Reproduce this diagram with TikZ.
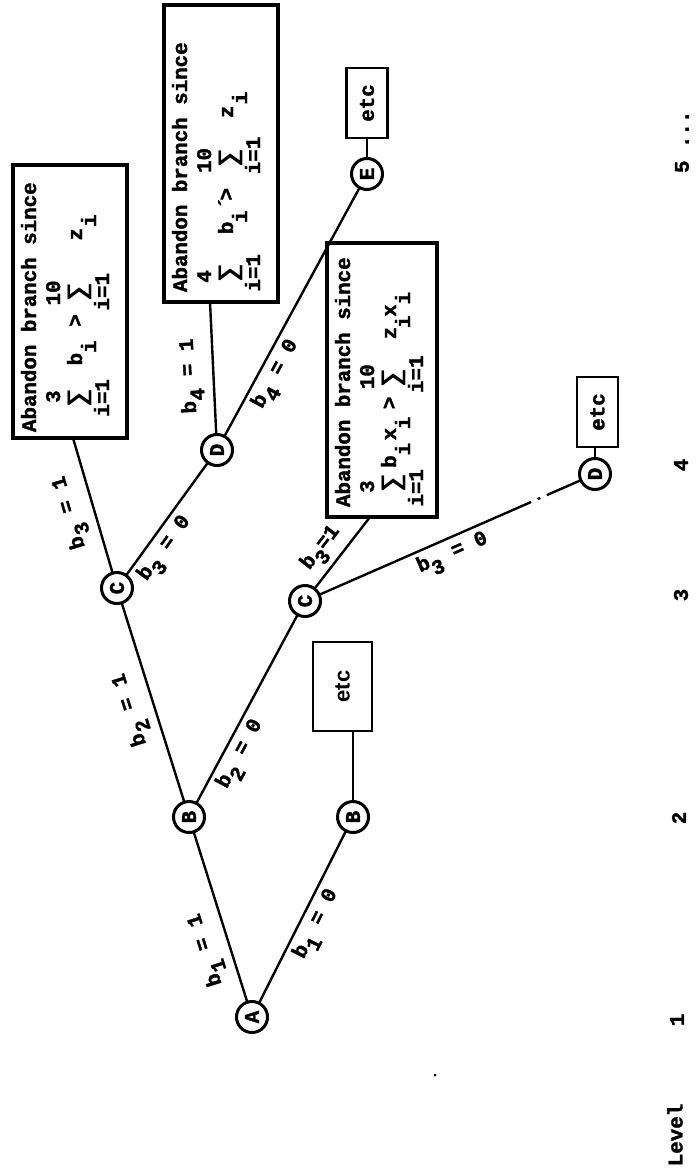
\documentclass[tikz,border=0pt]{standalone}
\usepackage{fontspec}
\setmonofont{Liberation Mono}[BoldFeatures={FakeBold=1.6}]
\newfontfamily\sumfont{DejaVu Sans Mono}
\newfontfamily\etcsans{Liberation Sans}
\usepackage{graphicx}
\usetikzlibrary{calc}
\newlength\cw \setlength\cw{12.48pt}
\newcommand\Cl[2]{\rlap{\hspace*{#1\cw}#2}}
\newcommand\Cs[2]{\rlap{\hspace*{#1\cw}\makebox[0pt][c]{#2}}}
\newcommand\SG{\raisebox{-4pt}{\sumfont\bfseries\scalebox{1.5}[1.2]{∑}}}
\newcommand\tfont{\ttfamily\bfseries\fontsize{20.8}{24}\selectfont}
\newcommand\etcfont{\etcsans\bfseries\fontsize{22}{26}\selectfont}
\newcommand\lo[1]{\raisebox{-9pt}{#1}}
\begin{document}
\begin{tikzpicture}[x=1pt,y=1pt,
  every node/.style={inner sep=0pt, outer sep=0pt},
  st/.style={circle, draw, line width=3pt, minimum size=31pt, inner sep=0pt, font=\tfont, rotate=90},
  edge/.style={line width=2.4pt},
  lab/.style={font=\tfont, sloped, allow upside down, inner sep=2pt},
  abox/.style={draw, line width=3.5pt, anchor=north west},
  txt/.style={font=\tfont, anchor=base west},
  ebox/.style={draw, line width=2.6pt, rotate=90},
  lvl/.style={font=\tfont, rotate=90}]
\fill[white] (0,0) rectangle (698,-1174);
\useasboundingbox (0,0) rectangle (698,-1174);

% state nodes
\node[st] (A)  at (252,-1017) {A};
\node[st] (B1) at (189,-817) {B};
\node[st] (B2) at (353,-817) {B};
\node[st] (C1) at (117,-588) {C};
\node[st] (C2) at (305,-601) {C};
\node[st] (D1) at (217,-450) {D};
\node[st] (D2) at (595,-474) {D};
\node[st] (E)  at (367,-174) {E};

% abandon boxes
\begin{scope}[shift={(13,-438)}, rotate=90, transform shape]
 \node[abox, minimum width=273, minimum height=114] (box1) at (0,0) {};
 \node[txt] (box1t) at (6,-23) {Abandon branch since};
 \node[txt] (box1a) at (6,-47) {\Cl{2.3}{3}\Cl{10.1}{10}};
 \node[txt] (box1b) at (6,-69) {\Cs{2.7}{\SG}\Cl{5.3}{b}\Cl{8.4}{>}\Cs{11.2}{\SG}\Cl{15.3}{z}};
 \node[txt] (box1c) at (6,-83) {\Cl{6.3}{i}\Cl{16.4}{i}};
 \node[txt] (box1d) at (6,-96) {\Cl{1.2}{i=1}\Cl{9.7}{i=1}};
\end{scope}
\begin{scope}[shift={(164,-302)}, rotate=90, transform shape]
 \node[abox, minimum width=297, minimum height=114] (box2) at (0,0) {};
 \node[txt] (box2t) at (10,-23) {Abandon branch since};
 \node[txt] (box2a) at (10,-47) {\Cl{0.7}{4}\Cl{9.5}{10}};
 \node[txt] (box2b) at (10,-69) {\Cs{1.5}{\SG}\Cl{4.6}{b}\Cl{6.6}{´}\Cl{7.3}{>}\Cs{10.7}{\SG}\Cl{13.9}{z}};
 \node[txt] (box2c) at (10,-83) {\Cl{5.5}{i}\Cl{15}{i}};
 \node[txt] (box2d) at (10,-96) {\Cl{0}{i=1}\Cl{9.4}{i=1}};
\end{scope}
\begin{scope}[shift={(327,-517)}, rotate=90, transform shape]
 \node[abox, minimum width=274, minimum height=110] (box3) at (0,0) {};
 \node[txt] (box3t) at (10,-23) {Abandon branch since};
 \node[txt] (box3a) at (10,-47) {\Cl{1.1}{3}\Cl{9.4}{10}};
 \node[txt] (box3b) at (10,-69) {\Cs{1.9}{\SG}\Cl{3.1}{b}\Cl{5.3}{x}\Cl{7.8}{>}\Cs{10.3}{\SG}\Cl{13.4}{z}\Cl{15.2}{x}};
 \node[txt] (box3c) at (10,-83) {\Cl{4.1}{i}\Cl{6.2}{i}\Cl{14.3}{i}\Cl{16.2}{i}};
 \node[txt] (box3d) at (10,-96) {\Cl{0}{i=1}\Cl{9.1}{i=1}};
\end{scope}

% etc boxes
\node[ebox, minimum width=89, minimum height=59, font=\etcfont] (etcB) at (342.5,-686.5) {etc};
\node[ebox, minimum width=70, minimum height=41, font=\tfont] (etcD) at (597.5,-412) {etc};
\node[ebox, minimum width=70, minimum height=41, font=\tfont] (etcE) at (367,-103) {etc};

% connectors
\draw[edge] (A) -- node[lab, above=8pt, pos=.35] {b\lo{1} = 1} (B1);
\draw[edge] (A) -- node[lab, below=3pt, pos=.5] {b\lo{1} = 0} (B2);
\draw[edge] (B1) -- node[lab, above=8pt, pos=.5] {b\lo{2} = 1} (C1);
\draw[edge] (B1) -- node[lab, below=3pt, pos=.3] {b\lo{2} = 0} (C2);
\draw[edge] (C1) -- node[lab, above=8pt, pos=.5] {b\lo{3} = 1} ([xshift=3pt]box1.west);
\draw[edge] (C1) -- node[lab, below=3pt, pos=.32] {b\lo{3} = 0} (D1);
\draw[edge] (D1) -- node[lab, above=8pt, pos=.45] {b\lo{4} = 1} ([xshift=-11pt]box2.west);
\draw[edge] (D1) -- node[lab, below=3pt, pos=.28] {b\lo{4} = 0} (E);
\draw[edge] (C2) -- node[lab, above=4pt, pos=.4] {b\lo{3}=1} ([xshift=-12pt]box3.west);
\coordinate (cd) at ($(C2)!0.78!(D2)$);
\draw[edge] (C2) -- node[lab, below=3pt, pos=.6] {b\lo{3} = 0} (cd);
\draw[edge, dash pattern=on 0pt off 7pt on 3pt off 7pt on 80pt] (cd) -- (D2);
\draw[edge] (B2) -- (B2 |- etcB.west);
\draw[edge] (D2) -- (D2 |- etcD.west);
\draw[edge] (E) -- (etcE.west);

% level labels
\node[lvl] (lev) at (675,-1135) {Level};
\node[lvl] (l1) at (677,-1020) {1};
\node[lvl] (l2) at (679,-818) {2};
\node[lvl] (l3) at (681,-595) {3};
\node[lvl] (l4) at (681,-465) {4};
\node[lvl, anchor=west] (l5) at (682,-173) {5 ...};

\fill (435,-1075) circle (1.5);
\end{tikzpicture}
\end{document}
